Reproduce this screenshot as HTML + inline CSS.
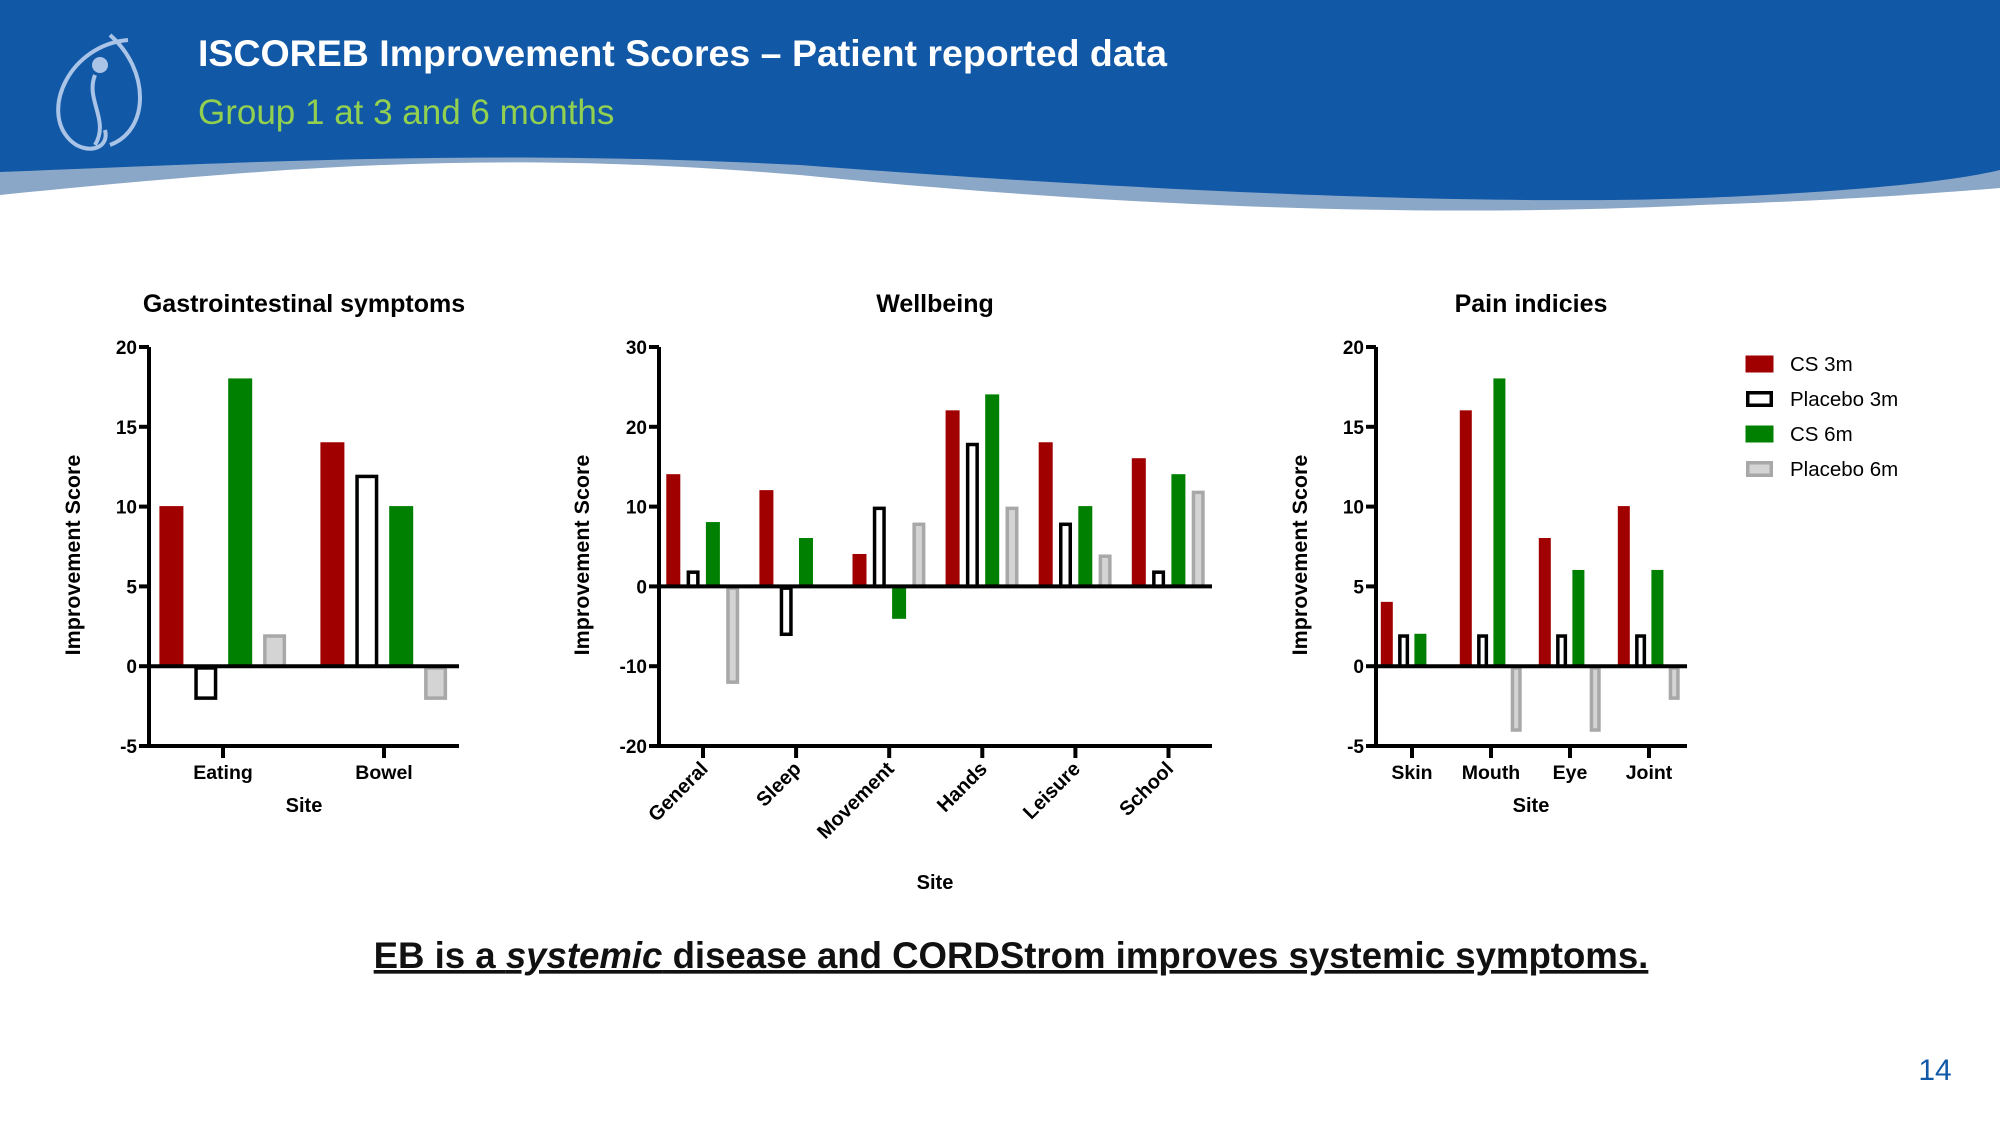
<!DOCTYPE html>
<html><head><meta charset="utf-8"><style>
body{margin:0;width:2000px;height:1125px;overflow:hidden;background:#fff;font-family:"Liberation Sans",sans-serif}
svg{display:block}
</style></head><body>
<svg id="s" width="2000" height="1125" viewBox="0 0 2000 1125" xmlns="http://www.w3.org/2000/svg">
<path d="M0,195 C300,165 500,150 800,175 C1200,215 1500,215 1700,205 C1850,200 1950,192 2000,188 L2000,0 L0,0 Z" fill="#8aa7c8"/>
<path d="M0,172 C300,160 500,150 800,165 C1200,195 1500,205 1700,198 C1850,192 1950,182 2000,170 L2000,0 L0,0 Z" fill="#1158a7"/>
<g fill="none" stroke="#a9c4e6" stroke-width="4">
<path d="M128,40 C70,45 40,110 70,140 C85,155 110,150 105,130"/>
<path d="M110,35 C150,70 150,130 110,145"/>
<path d="M95,75 C85,100 110,120 95,145"/>
<circle cx="100" cy="65" r="6" fill="#a9c4e6"/>
</g>
<text x="198" y="66" font-size="37.5" font-weight="bold" fill="#fff">ISCOREB Improvement Scores – Patient reported data</text>
<text x="198" y="124" font-size="35" fill="#92d050">Group 1 at 3 and 6 months</text>
<text x="1011" y="968" font-size="36.6" font-weight="bold" fill="#111" text-anchor="middle" text-decoration="underline">EB is a <tspan font-style="italic">systemic</tspan> disease and CORDStrom improves systemic symptoms.</text>
<text x="1935" y="1080" font-size="30" fill="#1158a7" text-anchor="middle">14</text>
<g id="legend"></g>
</svg>
<script>
const giCats=["Eating","Bowel"];
const giCS3=[10,14];
const giPl3=[-2,12];
const giCS6=[18,10];
const giPl6=[2,-2];
const wbCats=["General","Sleep","Movement","Hands","Leisure","School"];
const wbCS3=[14,12,4,22,18,16];
const wbPl3=[2,-6,10,18,8,2];
const wbCS6=[8,6,-4,24,10,14];
const wbPl6=[-12,0,8,10,4,12];
const painCats=["Skin","Mouth","Eye","Joint"];
const painCS3=[4,16,8,10];
const painPl3=[2,2,2,2];
const painCS6=[2,18,6,6];
const painPl6=[0,-4,-4,-2];
const giTicks=[-5,0,5,10,15,20];
const wbTicks=[-20,-10,0,10,20,30];
const painTicks=[-5,0,5,10,15,20];
const seriesNames=["CS 3m","Placebo 3m","CS 6m","Placebo 6m"];

const S=document.getElementById('s');
const NS="http://www.w3.org/2000/svg";
function mk(t,a,p){const e=document.createElementNS(NS,t);for(const k in a)e.setAttribute(k,a[k]);(p||S).appendChild(e);return e;}
const styles=[{fill:"#a00000",stroke:"#a00000",sw:1},{fill:"#fff",stroke:"#000",sw:3.5},{fill:"#008000",stroke:"#008000",sw:1},{fill:"#d4d4d4",stroke:"#a8a8a8",sw:3.5}];

function chart(o){
  const g=mk('g',{});
  
  
  const ymin=o.ticks[0],ymax=o.ticks[o.ticks.length-1];
  const y=v=>o.top+(ymax-v)/(ymax-ymin)*(o.bottom-o.top);
  const x=i=>o.first+i*o.step;
  o.series.forEach((ser,si)=>{
    ser.forEach((v,i)=>{
      if(v===0)return;
      const st=styles[si];
      const cx=x(i)+(si-1.5)*o.bs;
      const y0=y(0),y1=y(v);
      const inset=st.sw>2?st.sw/2:0;
      const r=mk('rect',{x:cx-o.bw/2+inset,y:Math.min(y0,y1)+inset,width:o.bw-2*inset,height:Math.max(0,Math.abs(y1-y0)-inset),fill:st.fill,stroke:st.stroke,'stroke-width':st.sw},g);
      
      
    });
  });
  const ya=mk('line',{x1:o.ax,y1:o.top,x2:o.ax,y2:o.bottom+2,stroke:'#000','stroke-width':4},g);
  
  
  const za=mk('line',{x1:o.ax,y1:y(0),x2:o.right,y2:y(0),stroke:'#000','stroke-width':4},g);
  
  
  const xa=mk('line',{x1:o.ax-2,y1:o.bottom,x2:o.right,y2:o.bottom,stroke:'#000','stroke-width':4},g);
  
  
  o.ticks.forEach(t=>{
    mk('line',{x1:o.ax-10,y1:y(t),x2:o.ax,y2:y(t),stroke:'#000','stroke-width':4},g);
    const tl=mk('text',{x:o.ax-12,y:y(t)+7,'font-size':19,'font-weight':'bold','text-anchor':'end'},g);
    tl.textContent=t;
    
    
  });
  o.cats.forEach((c,i)=>{
    mk('line',{x1:x(i),y1:o.bottom,x2:x(i),y2:o.bottom+12,stroke:'#000','stroke-width':4},g);
    let t;
    if(o.rot){t=mk('text',{x:x(i)+6,y:o.bottom+24,'font-size':20,'font-weight':'bold','text-anchor':'end',transform:`rotate(-45 ${x(i)+6} ${o.bottom+24})`},g);}
    else t=mk('text',{x:x(i),y:o.bottom+33,'font-size':19.5,'font-weight':'bold','text-anchor':'middle'},g);
    t.textContent=c;
    
    
  });
  const tt=mk('text',{x:o.tx,y:312,'font-size':25,'font-weight':'bold','text-anchor':'middle'},g);
  tt.textContent=o.title;
  
  
  const yt=mk('text',{x:o.ytx,y:555,'font-size':21.5,'font-weight':'bold','text-anchor':'middle',transform:`rotate(-90 ${o.ytx} 555)`},g);
  yt.textContent="Improvement Score";
  
  
  const xt=mk('text',{x:o.tx,y:o.xty,'font-size':20,'font-weight':'bold','text-anchor':'middle'},g);
  xt.textContent="Site";
  
  
}
chart({name:'gi-chart',title:'Gastrointestinal symptoms',cats:giCats,series:[giCS3,giPl3,giCS6,giPl6],ticks:giTicks,ax:149,right:459,top:347,bottom:746,first:223,step:161,bw:23,bs:34.4,tx:304,ytx:80,xty:812});
chart({name:'wellbeing-chart',title:'Wellbeing',cats:wbCats,series:[wbCS3,wbPl3,wbCS6,wbPl6],ticks:wbTicks,ax:659,right:1212,top:347,bottom:746,first:703,step:93.1,bw:13,bs:19.8,tx:935,ytx:589,xty:889,rot:true});
chart({name:'pain-chart',title:'Pain indicies',cats:painCats,series:[painCS3,painPl3,painCS6,painPl6],ticks:painTicks,ax:1376,right:1687,top:347,bottom:746,first:1412,step:79,bw:11,bs:16.8,tx:1531,ytx:1307,xty:812});

const L=document.getElementById('legend');
seriesNames.forEach((n,i)=>{
  const st=styles[i];const yy=364+i*35;
  const inset=st.sw>2?st.sw/2:0;
  const r=mk('rect',{x:1746+inset,y:yy-8+inset,width:27-2*inset,height:16-2*inset,fill:st.fill,stroke:st.stroke,'stroke-width':st.sw},L);
  
  
  const t=mk('text',{x:1790,y:yy+7,'font-size':20.5},L);
  t.textContent=n;
  
  
});
</script>
</body></html>
